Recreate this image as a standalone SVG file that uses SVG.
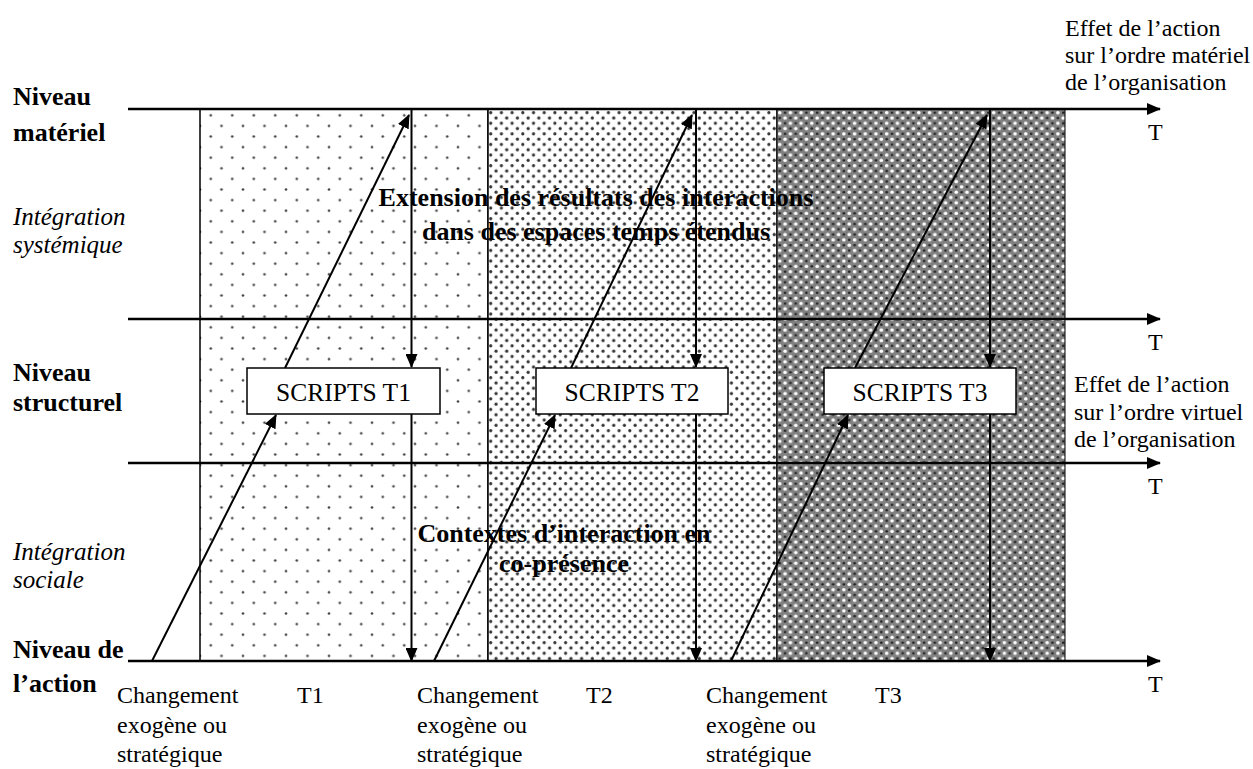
<svg xmlns="http://www.w3.org/2000/svg" width="1253" height="769" viewBox="0 0 1253 769">
  <style>
    .t { font-family: "Liberation Serif", "Times New Roman", serif; font-size: 24px; fill: #000; }
    .b { font-weight: bold; font-size: 26px; }
    .i { font-style: italic; font-size: 25px; }
    .s { font-size: 25.5px; }
    .axis { stroke: #000; stroke-width: 2.5; fill: none; }
    .edge { stroke: #000; stroke-width: 2; fill: none; }
    .box { fill: #fff; stroke: #000; stroke-width: 1.5; }
  </style>
  <defs>
    <pattern id="sparse" width="21.5" height="21.2" patternUnits="userSpaceOnUse" x="200" y="110">
      <rect width="21.5" height="21.2" fill="#fff"/>
      <circle cx="10.75" cy="5.3" r="1.3" fill="#444"/>
      <circle cx="0" cy="15.9" r="1.3" fill="#444"/>
      <circle cx="21.5" cy="15.9" r="1.3" fill="#444"/>
    </pattern>
    <pattern id="dense" width="10.7" height="10.6" patternUnits="userSpaceOnUse" x="488" y="110">
      <rect width="10.7" height="10.6" fill="#fff"/>
      <circle cx="2.7" cy="2.65" r="1.6" fill="#333"/>
      <circle cx="8.05" cy="7.95" r="1.6" fill="#333"/>
    </pattern>
    <pattern id="dark" width="10.7" height="10.6" patternUnits="userSpaceOnUse" x="777" y="110">
      <rect width="10.7" height="10.6" fill="#808080"/>
      <circle cx="2.7" cy="2.65" r="1.8" fill="#fff"/>
      <circle cx="8.05" cy="7.95" r="1.8" fill="#fff"/>
      <circle cx="8.05" cy="2.65" r="1.3" fill="#222"/>
      <circle cx="2.7" cy="7.95" r="1.3" fill="#222"/>
    </pattern>
    <marker id="head" markerWidth="14" markerHeight="12" refX="13" refY="6" orient="auto" markerUnits="userSpaceOnUse">
      <path d="M0,0 L14,6 L0,12 Z" fill="#000"/>
    </marker>
  </defs>

  <!-- time bands -->
  <g id="bands">
    <rect x="200" y="109" width="288" height="552" fill="url(#sparse)" stroke="#000" stroke-width="1.5"/>
    <rect x="488" y="109" width="289" height="552" fill="url(#dense)" stroke="#000" stroke-width="1.5"/>
    <rect x="777" y="109" width="288" height="552" fill="url(#dark)" stroke="#000" stroke-width="1"/>
  </g>

  <!-- level axes -->
  <g id="axes">
    <line class="axis" x1="128" y1="109" x2="1160" y2="109" marker-end="url(#head)"/>
    <line class="axis" x1="128" y1="319" x2="1160" y2="319" marker-end="url(#head)"/>
    <line class="axis" x1="128" y1="463" x2="1160" y2="463" marker-end="url(#head)"/>
    <line class="axis" x1="128" y1="661" x2="1160" y2="661" marker-end="url(#head)"/>
  </g>

  <!-- connectors -->
  <g id="connectors">
    <line class="edge" x1="411.5" y1="110" x2="411.5" y2="367" marker-end="url(#head)"/>
    <line class="edge" x1="411.5" y1="414" x2="411.5" y2="661" marker-end="url(#head)"/>
    <line class="edge" x1="696" y1="110" x2="696" y2="367" marker-end="url(#head)"/>
    <line class="edge" x1="696" y1="414" x2="696" y2="661" marker-end="url(#head)"/>
    <line class="edge" x1="990" y1="110" x2="990" y2="367" marker-end="url(#head)"/>
    <line class="edge" x1="990" y1="414" x2="990" y2="661" marker-end="url(#head)"/>

    <line class="edge" x1="152" y1="661" x2="276" y2="415" marker-end="url(#head)"/>
    <line class="edge" x1="285" y1="368" x2="409" y2="115" marker-end="url(#head)"/>
    <line class="edge" x1="434" y1="661" x2="555" y2="415" marker-end="url(#head)"/>
    <line class="edge" x1="571" y1="368" x2="692" y2="115" marker-end="url(#head)"/>
    <line class="edge" x1="731" y1="661" x2="848" y2="415" marker-end="url(#head)"/>
    <line class="edge" x1="855" y1="368" x2="987" y2="115" marker-end="url(#head)"/>
  </g>

  <!-- script nodes -->
  <g id="scripts-t1">
    <rect class="box" x="247" y="368" width="193" height="46"/>
    <text class="t s" x="343.5" y="401" text-anchor="middle">SCRIPTS T1</text>
  </g>
  <g id="scripts-t2">
    <rect class="box" x="536" y="368" width="192" height="46"/>
    <text class="t s" x="632" y="401" text-anchor="middle">SCRIPTS T2</text>
  </g>
  <g id="scripts-t3">
    <rect class="box" x="824" y="368" width="192" height="46"/>
    <text class="t s" x="920" y="401" text-anchor="middle">SCRIPTS T3</text>
  </g>

  <!-- level labels -->
  <g id="level-labels">
    <text class="t b" x="13" y="105">Niveau</text>
    <text class="t b" x="13" y="141">matériel</text>
    <text class="t i" x="13" y="225">Intégration</text>
    <text class="t i" x="13" y="253">systémique</text>
    <text class="t b" x="13" y="381">Niveau</text>
    <text class="t b" x="13" y="411">structurel</text>
    <text class="t i" x="13" y="560">Intégration</text>
    <text class="t i" x="13" y="588">sociale</text>
    <text class="t b" x="13" y="658">Niveau de</text>
    <text class="t b" x="13" y="692">l’action</text>
  </g>

  <!-- band annotations -->
  <g id="band-notes">
    <text class="t b" x="596" y="206" text-anchor="middle">Extension des résultats des interactions</text>
    <text class="t b" x="596" y="240" text-anchor="middle">dans des espaces temps étendus</text>
    <text class="t b" x="564" y="542" text-anchor="middle">Contextes d’interaction en</text>
    <text class="t b" x="564" y="572" text-anchor="middle">co-présence</text>
  </g>

  <!-- time axis labels -->
  <g id="time-labels">
    <text class="t" x="1148" y="140">T</text>
    <text class="t" x="1148" y="350">T</text>
    <text class="t" x="1148" y="494">T</text>
    <text class="t" x="1148" y="692">T</text>
    <text class="t" x="297" y="703">T1</text>
    <text class="t" x="586" y="703">T2</text>
    <text class="t" x="875" y="703">T3</text>
  </g>

  <!-- change events -->
  <g id="change-1">
    <text class="t" x="117" y="703">Changement</text>
    <text class="t" x="117" y="733">exogène ou</text>
    <text class="t" x="117" y="762">stratégique</text>
  </g>
  <g id="change-2">
    <text class="t" x="417" y="703">Changement</text>
    <text class="t" x="417" y="733">exogène ou</text>
    <text class="t" x="417" y="762">stratégique</text>
  </g>
  <g id="change-3">
    <text class="t" x="706" y="703">Changement</text>
    <text class="t" x="706" y="733">exogène ou</text>
    <text class="t" x="706" y="762">stratégique</text>
  </g>

  <!-- effect notes -->
  <g id="effect-material">
    <text class="t" x="1065" y="36">Effet de l’action</text>
    <text class="t" x="1065" y="63">sur l’ordre matériel</text>
    <text class="t" x="1065" y="90">de l’organisation</text>
  </g>
  <g id="effect-virtual">
    <text class="t" x="1074" y="392">Effet de l’action</text>
    <text class="t" x="1074" y="420">sur l’ordre virtuel</text>
    <text class="t" x="1074" y="447">de l’organisation</text>
  </g>
</svg>
